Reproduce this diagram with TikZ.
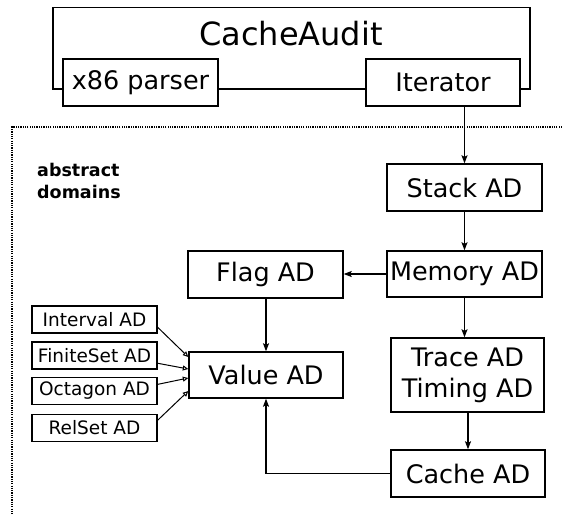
\documentclass[tikz,border=0pt]{standalone}
\usepackage{fontspec}
\setmainfont{DejaVu Sans}
\usetikzlibrary{arrows.meta,calc}
\begin{document}
\begin{tikzpicture}[x=1pt,y=-1pt,
  bigbox/.style={draw,line width=1.4pt,inner sep=0pt,minimum width=155pt,minimum height=47pt,font=\fontsize{25.5}{31}\selectfont,align=center},
  smallbox/.style={draw,line width=1.3pt,inner sep=0pt,minimum width=125pt,minimum height=27pt,font=\fontsize{18.5}{22}\selectfont},
  conn/.style={line width=1.2pt},
  arr/.style={line width=1.2pt,-{Stealth[length=8pt,width=6pt,inset=1.5pt]}},
  oarr/.style={line width=1pt,-{Triangle[open,length=5.5pt,width=5pt]}},
  frame/.style={line width=1.4pt},
  dotframe/.style={line width=1.4pt,dash pattern=on 1.2pt off 1.1pt}]
\useasboundingbox (0,0) rectangle (562,514);
% dotted region
\coordinate (dA) at (562,127);
\coordinate (dB) at (12,127);
\coordinate (dC) at (12,514);
\draw[dotframe] (dA) -- (dB) -- (dC);
% top frame
\node (title) at (291,34) {\fontsize{32}{38}\selectfont CacheAudit};
\node[bigbox,minimum width=155pt] (x86) at (140.5,82.5) {x86 parser};
\node[bigbox,minimum width=154pt] (iter) at (443,82.5) {Iterator};
\coordinate (fl) at (53,89);
\coordinate (ftl) at (53,7.5);
\coordinate (ftr) at (530,7.5);
\coordinate (fr) at (530,89);
\draw[frame] (x86.west |- fl) -- (fl) -- (ftl) -- (ftr) -- (fr) -- (iter.east |- fr);
\draw[frame] (x86.east |- fl) -- (iter.west |- fl);
% label
\node[anchor=north west,inner sep=0pt,align=left,font=\bfseries\fontsize{17.5}{22}\selectfont] (lab) at (37,163) {abstract\\domains};
% right column
\node[bigbox] (stack) at (464.5,187.5) {Stack AD};
\node[bigbox,minimum height=46pt] (mem) at (464.5,274) {Memory AD};
\node[bigbox,minimum width=153pt,minimum height=74pt] (trace) at (467.5,375) {Trace AD\\Timing AD};
\node[bigbox,minimum width=154pt] (cache) at (468,473.5) {Cache AD};
% middle column
\node[bigbox] (flag) at (265.5,274.5) {Flag AD};
\node[bigbox,minimum width=154pt,minimum height=46pt] (value) at (266,375) {Value AD};
% small boxes
\node[smallbox] (iv) at (94.5,319.5) {Interval AD};
\node[smallbox] (fs) at (94.5,355.5) {FiniteSet AD};
\node[smallbox] (oc) at (94.5,391) {Octagon AD};
\node[smallbox] (rs) at (94.5,428) {RelSet AD};
% connectors
\draw[arr] (iter.south -| stack.north) -- (stack.north);
\draw[arr] (stack.south) -- (mem.north);
\draw[arr] (mem.south) -- (mem.south |- trace.north);
\draw[arr] (trace.south -| cache.north) -- (cache.north);
\draw[arr] (mem.west) -- (flag.east |- mem.west);
\draw[arr] (flag.south -| value.north) -- (value.north);
\draw[arr] (cache.west) -| (value.south);
\draw[oarr] (iv.-7) -- ([yshift=18pt]value.west);
\draw[oarr] (fs.-7) -- ([yshift=6pt]value.west);
\draw[oarr] (oc.6) -- ([yshift=-3pt]value.west);
\draw[oarr] (rs.7) -- ([yshift=-16pt]value.west);
\end{tikzpicture}
\end{document}
